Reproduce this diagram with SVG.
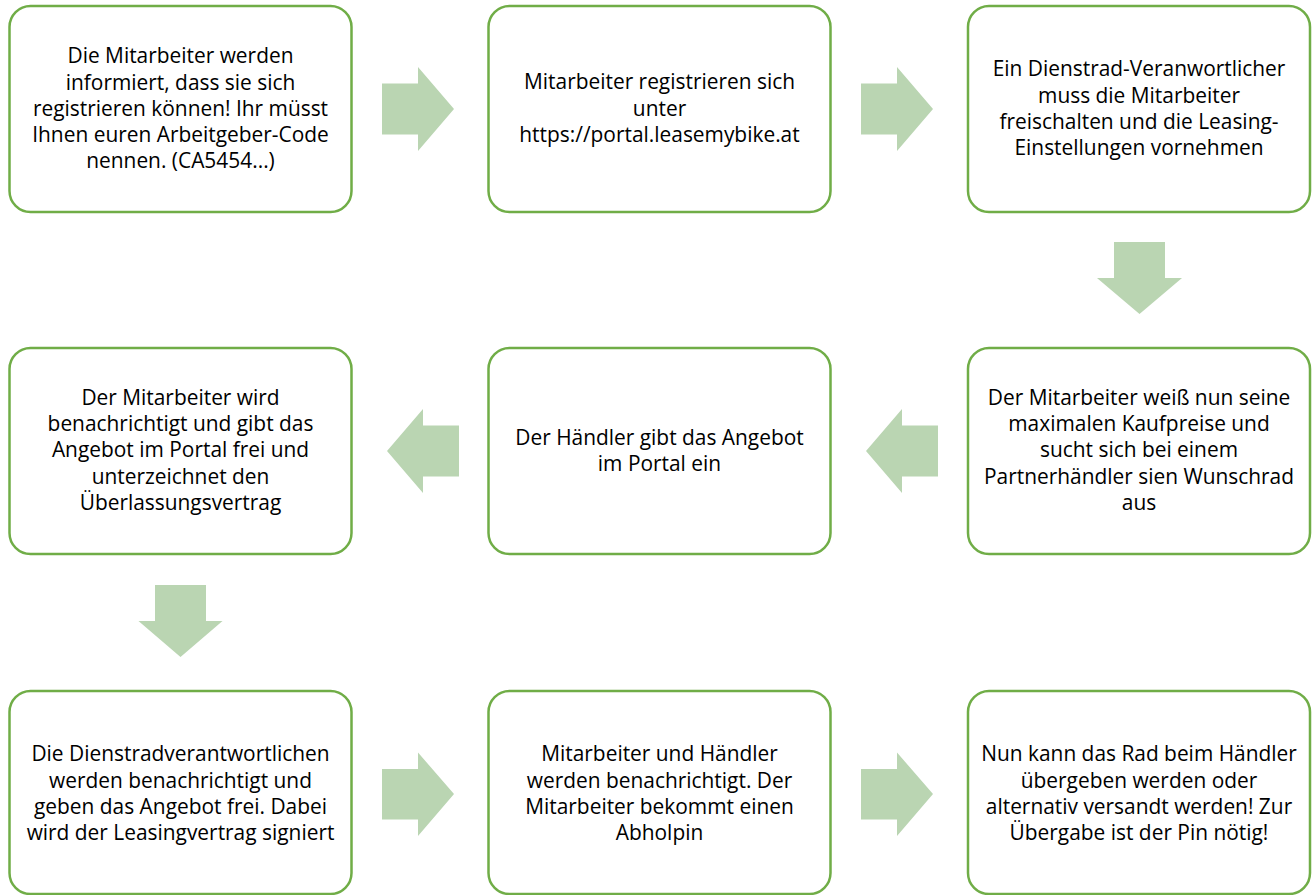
<svg xmlns="http://www.w3.org/2000/svg" width="1312" height="895" viewBox="0 0 1312 895">
<style>
.box{fill:#ffffff;stroke:#70ad47;stroke-width:2.5}
.arr{fill:#bad5b2}
text{font-family:"Open Sans","Noto Sans",sans-serif;font-size:20.9px;fill:#000;text-anchor:middle}
</style>
<rect width="1312" height="895" fill="#ffffff"/>
<g id="connectors">
<polygon class="arr" points="382,83.5 418,83.5 418,67 454,109 418,151 418,134.5 382,134.5"/>
<polygon class="arr" points="861,83.5 897,83.5 897,67 933,109 897,151 897,134.5 861,134.5"/>
<polygon class="arr" points="1114,242 1165,242 1165,278 1182,278 1139.5,314 1097,278 1114,278"/>
<polygon class="arr" points="938,425.5 902,425.5 902,409 866,451 902,493 902,476.5 938,476.5"/>
<polygon class="arr" points="459,425.5 423,425.5 423,409 387,451 423,493 423,476.5 459,476.5"/>
<polygon class="arr" points="155,585 206,585 206,621 222.5,621 180.5,657 138.5,621 155,621"/>
<polygon class="arr" points="382,769 418,769 418,752.5 454,794 418,836 418,819.5 382,819.5"/>
<polygon class="arr" points="861,769 897,769 897,752.5 933,794 897,836 897,819.5 861,819.5"/>
</g>
<g id="n1">
<rect class="box" x="9.5" y="6" width="342" height="206" rx="21"/>
<text x="180.5" y="63.4">Die Mitarbeiter werden</text>
<text x="180.5" y="89.5">informiert, dass sie sich</text>
<text x="180.5" y="115.6">registrieren können! Ihr müsst</text>
<text x="180.5" y="141.7">Ihnen euren Arbeitgeber-Code</text>
<text x="180.5" y="167.8">nennen. (CA5454...)</text>
</g>
<g id="n2">
<rect class="box" x="488.5" y="6" width="342" height="206" rx="21"/>
<text x="659.5" y="89.4">Mitarbeiter registrieren sich</text>
<text x="659.5" y="115.5">unter</text>
<text x="659.5" y="141.6">https://portal.leasemybike.at</text>
</g>
<g id="n3">
<rect class="box" x="968" y="6" width="342" height="206" rx="21"/>
<text x="1139" y="76.4">Ein Dienstrad-Veranwortlicher</text>
<text x="1139" y="102.5">muss die Mitarbeiter</text>
<text x="1139" y="128.6">freischalten und die Leasing-</text>
<text x="1139" y="154.7">Einstellungen vornehmen</text>
</g>
<g id="n4">
<rect class="box" x="968" y="348" width="342" height="206" rx="21"/>
<text x="1139" y="405.2">Der Mitarbeiter weiß nun seine</text>
<text x="1139" y="431.3">maximalen Kaufpreise und</text>
<text x="1139" y="457.4">sucht sich bei einem</text>
<text x="1139" y="483.5">Partnerhändler sien Wunschrad</text>
<text x="1139" y="509.6">aus</text>
</g>
<g id="n5">
<rect class="box" x="488.5" y="348" width="342" height="206" rx="21"/>
<text x="659.5" y="444.5">Der Händler gibt das Angebot</text>
<text x="659.5" y="470.6">im Portal ein</text>
</g>
<g id="n6">
<rect class="box" x="9.5" y="348" width="342" height="206" rx="21"/>
<text x="180.5" y="405.2">Der Mitarbeiter wird</text>
<text x="180.5" y="431.3">benachrichtigt und gibt das</text>
<text x="180.5" y="457.4">Angebot im Portal frei und</text>
<text x="180.5" y="483.5">unterzeichnet den</text>
<text x="180.5" y="509.6">Überlassungsvertrag</text>
</g>
<g id="n7">
<rect class="box" x="9.5" y="691" width="342" height="203" rx="21"/>
<text x="180.5" y="761.4">Die Dienstradverantwortlichen</text>
<text x="180.5" y="787.5">werden benachrichtigt und</text>
<text x="180.5" y="813.6">geben das Angebot frei. Dabei</text>
<text x="180.5" y="839.7">wird der Leasingvertrag signiert</text>
</g>
<g id="n8">
<rect class="box" x="488.5" y="691" width="342" height="203" rx="21"/>
<text x="659.5" y="761.4">Mitarbeiter und Händler</text>
<text x="659.5" y="787.5">werden benachrichtigt. Der</text>
<text x="659.5" y="813.6">Mitarbeiter bekommt einen</text>
<text x="659.5" y="839.7">Abholpin</text>
</g>
<g id="n9">
<rect class="box" x="968" y="691" width="342" height="203" rx="21"/>
<text x="1139" y="761.4">Nun kann das Rad beim Händler</text>
<text x="1139" y="787.5">übergeben werden oder</text>
<text x="1139" y="813.6">alternativ versandt werden! Zur</text>
<text x="1139" y="839.7">Übergabe ist der Pin nötig!</text>
</g>
</svg>
